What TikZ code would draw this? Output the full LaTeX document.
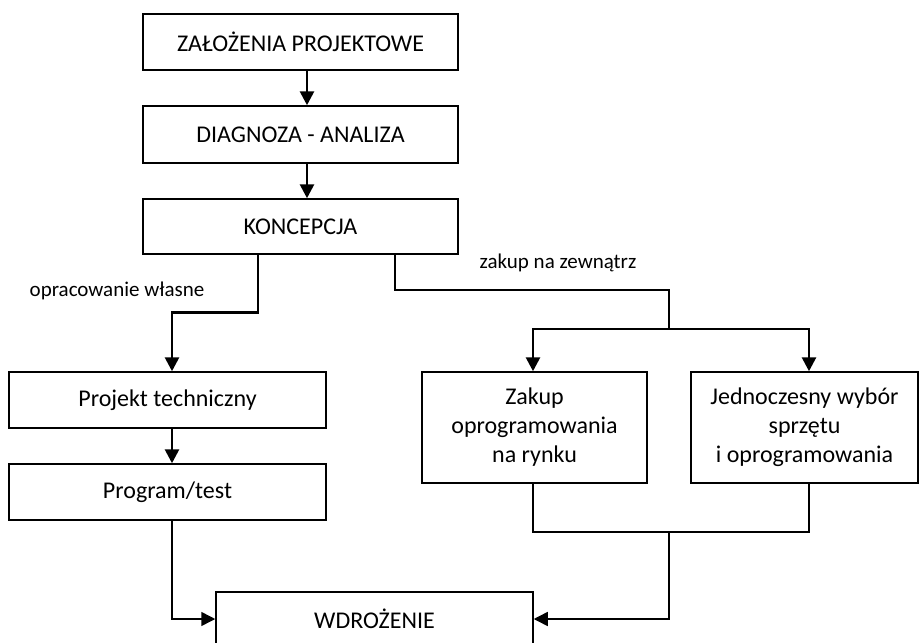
\documentclass[tikz,border=0pt]{standalone}
\usepackage{fontspec}
\setmainfont{Carlito}
\usetikzlibrary{arrows.meta}
\begin{document}
\begin{tikzpicture}[x=1pt,y=-1pt,
  font=\fontsize{24}{29}\selectfont,
  box/.style={draw,line width=1.5pt,inner sep=0pt,align=center},
  thinline/.style={line width=1.5pt},
  thickline/.style={line width=2.8pt},
  tip/.style={-{Triangle[width=14pt,length=14pt]}},
  lbl/.style={inner sep=0pt,font=\fontsize{21}{25}\selectfont}]
\clip (0,0) rectangle (919,643);
\useasboundingbox (0,0) rectangle (919,643);

% main column
\node[box,minimum width=315pt,minimum height=56pt] (zal) at (300.5,42) {ZAŁOŻENIA PROJEKTOWE};
\node[box,minimum width=315pt,minimum height=57pt] (diag) at (300.5,134.5) {DIAGNOZA - ANALIZA};
\node[box,minimum width=315pt,minimum height=55pt] (konc) at (300.5,226.5) {KONCEPCJA};

% own development branch
\node[box,minimum width=317pt,minimum height=56pt] (proj) at (167.5,400) {Projekt techniczny};
\node[box,minimum width=317pt,minimum height=56pt] (prog) at (167.5,492) {Program/test};

% external purchase branch
\node[box,minimum width=225pt,minimum height=111pt] (zakup) at (534.5,427.5) {Zakup\\oprogramowania\\na rynku};
\node[box,minimum width=227pt,minimum height=111pt] (jedn) at (804.5,427.5) {Jednoczesny wybór\\sprzętu\\i oprogramowania};

% implementation
\node[box,minimum width=317pt,minimum height=54pt] (wdr) at (374.5,619) {WDROŻENIE};

% branch labels
\node[lbl] (lown) at (117,291) {opracowanie własne};
\node[lbl] (lext) at (558,263) {zakup na zewnątrz};

% connectors in the main column
\draw[thickline,tip] ([xshift=6.5pt]zal.south) -- ([xshift=6.5pt]diag.north);
\draw[thickline,tip] ([xshift=6.5pt]diag.south) -- ([xshift=6.5pt]konc.north);

% own development path
\draw[thickline,tip] ([xshift=-42.5pt]konc.south) -- ++(0,58) -| ([xshift=4.5pt]proj.north);
\draw[thickline,tip] ([xshift=4.5pt]proj.south) -- ([xshift=4.5pt]prog.north);
\draw[thinline,tip] ([xshift=4.5pt]prog.south) |- (wdr.west);

% external purchase path
\coordinate (split) at (669,329);
\coordinate (join) at (669,532);
\draw[thinline] ([xshift=94.5pt]konc.south) -- ++(0,35) -| (split);
\draw[thickline,tip] (split) -| ([xshift=-1.5pt]zakup.north);
\draw[thickline,tip] (split) -| ([xshift=4.5pt]jedn.north);
\draw[thinline] ([xshift=-1.5pt]zakup.south) |- (join) -| ([xshift=4.5pt]jedn.south);
\draw[thinline,tip] (join) |- (wdr.east);
\end{tikzpicture}
\end{document}
